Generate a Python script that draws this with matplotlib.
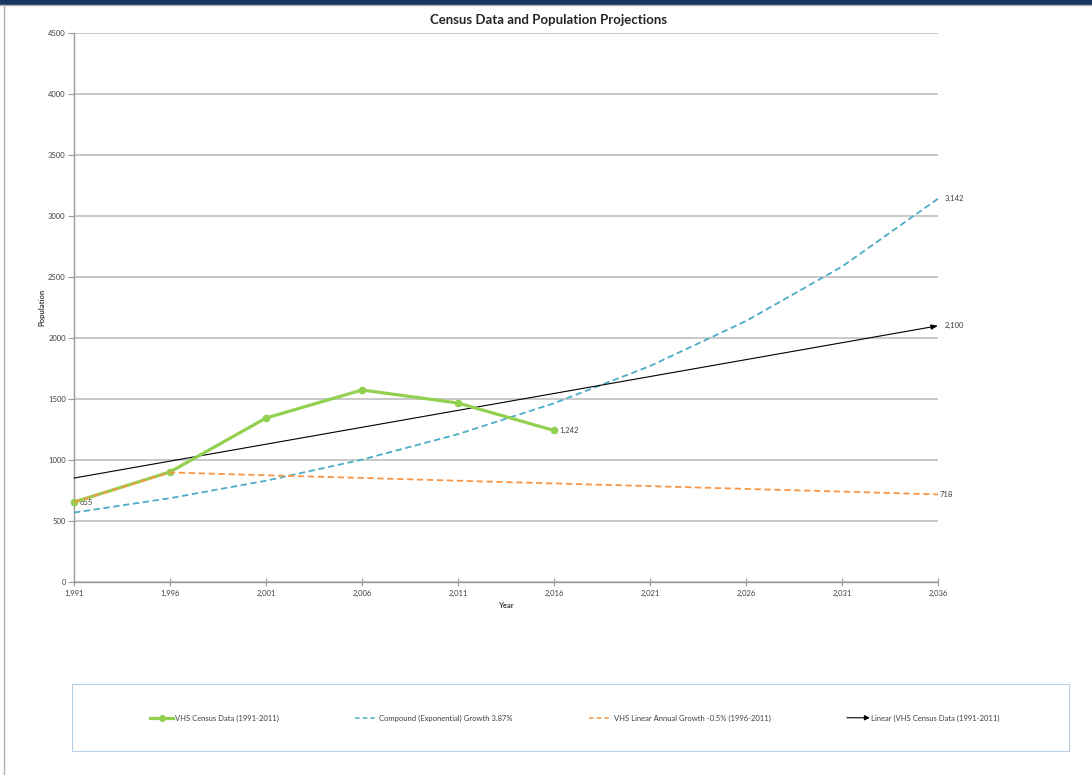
import matplotlib
matplotlib.use("Agg")
import matplotlib.pyplot as plt
from matplotlib.lines import Line2D
from matplotlib.patches import Rectangle, FancyArrowPatch
from matplotlib.legend_handler import HandlerBase

# ---------------- data ----------------
census_years = [1991, 1996, 2001, 2006, 2011, 2016]
census_pop = [655, 902, 1344, 1574, 1467, 1242]

proj_years = [1991, 1996, 2001, 2006, 2011, 2016, 2021, 2026, 2031, 2036]
compound_pop = [569, 687, 830, 1003, 1212, 1465, 1770, 2139, 2585, 3142]

orange_years = [1991, 1996, 2001, 2006, 2011, 2016, 2021, 2026, 2031, 2036]
orange_pop = [655, 898, 875, 853, 830, 808, 786, 763, 741, 718]

linear_years = [1991, 2036]
linear_pop = [852, 2100]

x_ticks = [1991, 1996, 2001, 2006, 2011, 2016, 2021, 2026, 2031, 2036]
y_ticks = [0, 500, 1000, 1500, 2000, 2500, 3000, 3500, 4000, 4500]

labels = ["VHS Census Data (1991-2011)",
          "Compound (Exponential) Growth 3.87%",
          "VHS Linear Annual Growth -0.5% (1996-2011)",
          "Linear (VHS Census Data (1991-2011)"]

GREEN = "#92d050"
BLUE = "#4bacc6"
ORANGE = "#f79646"
GRID = "#c4c4c4"
TXT = "#404040"

plt.rcParams['font.family'] = ['Lato', 'DejaVu Sans']

W, H = 1092, 775
fig = plt.figure(figsize=(W / 100, H / 100), dpi=100)

def fx(px):
    return px / W

def fy(py):
    return 1 - py / H

# page decorations
fig.patches.append(Rectangle((0, fy(4)), 1, 4 / H, transform=fig.transFigure,
                             color="#17375e", zorder=0))
fig.add_artist(Line2D([0, 1], [fy(5), fy(5)], color="#b0b0b0", lw=1))
fig.add_artist(Line2D([fx(3.5), fx(3.5)], [0, fy(5)], color="#b0b0b0", lw=1))

ax = fig.add_axes([fx(74), fy(582), fx(938 - 74), (582 - 33) / H])

ax.set_xlim(1991, 2036)
ax.set_ylim(0, 4500)
ax.set_xticks(x_ticks)
ax.set_xticklabels([f"{v:,}" for v in x_ticks])
ax.set_yticks(y_ticks)
ax.set_yticklabels([str(v) for v in y_ticks])
ax.yaxis.grid(True, color=GRID, lw=1.3)
ax.set_axisbelow(True)
for s in ["top", "right"]:
    ax.spines[s].set_visible(False)
for s in ["left", "bottom"]:
    ax.spines[s].set_color("#9a9a9a")
    ax.spines[s].set_linewidth(1.0)
ax.tick_params(axis='y', direction='out', length=4, color="#9a9a9a",
               labelsize=5.5, labelcolor=TXT, pad=2)
ax.tick_params(axis='x', direction='inout', length=6, color="#9a9a9a",
               labelsize=5.5, labelcolor=TXT, pad=3)

# series
ax.plot(census_years, census_pop, color=GREEN, lw=2.3, marker='o',
        markersize=4.5, zorder=4, clip_on=False)
ax.plot(orange_years, orange_pop, color=ORANGE, lw=1.3, ls=(0, (3.5, 2)),
        zorder=5, clip_on=False)
ax.plot(proj_years, compound_pop, color=BLUE, lw=1.3, ls=(0, (3.5, 2)),
        zorder=3, clip_on=False)
ax.annotate("", xy=(linear_years[1], linear_pop[1]),
            xytext=(linear_years[0], linear_pop[0]),
            arrowprops=dict(arrowstyle='-|>,head_length=0.4,head_width=0.15',
                            color='black', lw=0.8, shrinkA=0, shrinkB=0),
            zorder=3, annotation_clip=False)

# data labels
lab_kw = dict(fontsize=5.5, color=TXT, va='center')
ax.annotate(f"{census_pop[0]:,}", (census_years[0], census_pop[0]),
            xytext=(4, 0), textcoords='offset points', ha='left', **lab_kw)
ax.annotate(f"{census_pop[-1]:,}", (census_years[-1], census_pop[-1]),
            xytext=(4, 0), textcoords='offset points', ha='left', **lab_kw)
ax.annotate(f"{compound_pop[-1]:,}", (proj_years[-1], compound_pop[-1]),
            xytext=(5, 0), textcoords='offset points', ha='left', **lab_kw)
ax.annotate(f"{linear_pop[-1]:,}", (linear_years[-1], linear_pop[-1]),
            xytext=(5, 0), textcoords='offset points', ha='left', **lab_kw)
ax.annotate(f"{orange_pop[-1]:,}", (orange_years[-1], orange_pop[-1]),
            xytext=(1, 0), textcoords='offset points', ha='left', **lab_kw)

ax.set_ylabel("Population", fontsize=5.5, fontweight='bold', color=TXT,
              labelpad=2)
ax.set_xlabel("Year", fontsize=5.5, fontweight='bold', color=TXT, labelpad=3)

fig.text(fx(548), fy(20), "Census Data and Population Projections",
         fontsize=9.5, fontweight='bold', color="#262626", ha='center', va='center')

# legend
fig.patches.append(Rectangle((fx(72), fy(751)), fx(1069 - 72), (751 - 684) / H,
                             transform=fig.transFigure, facecolor='white',
                             edgecolor="#b9cde5", lw=0.8, zorder=1))


class ArrowHandler(HandlerBase):
    def create_artists(self, legend, orig_handle, xdescent, ydescent,
                       width, height, fontsize, trans):
        y = height / 2 - ydescent
        a = FancyArrowPatch((-xdescent, y), (width - xdescent, y),
                            arrowstyle='-|>,head_length=3,head_width=1.5',
                            color='black', lw=0.8, shrinkA=0, shrinkB=0,
                            transform=trans, mutation_scale=1)
        return [a]


class ArrowKey:
    pass


handles = [
    Line2D([], [], color=GREEN, lw=2.3, marker='o', markersize=4),
    Line2D([], [], color=BLUE, lw=1.1, ls=(0, (3, 2))),
    Line2D([], [], color=ORANGE, lw=1.1, ls=(0, (3, 2))),
    ArrowKey(),
]
leg = fig.legend(handles, labels, loc='center',
                 bbox_to_anchor=(fx(575), fy(718)), ncol=4, frameon=False,
                 fontsize=5.5, handlelength=3.0, handletextpad=0.2,
                 columnspacing=10.0, handler_map={ArrowKey: ArrowHandler()})
for t in leg.get_texts():
    t.set_color(TXT)
leg.set_zorder(2)

fig.savefig("out.png", dpi=100, facecolor='white')
